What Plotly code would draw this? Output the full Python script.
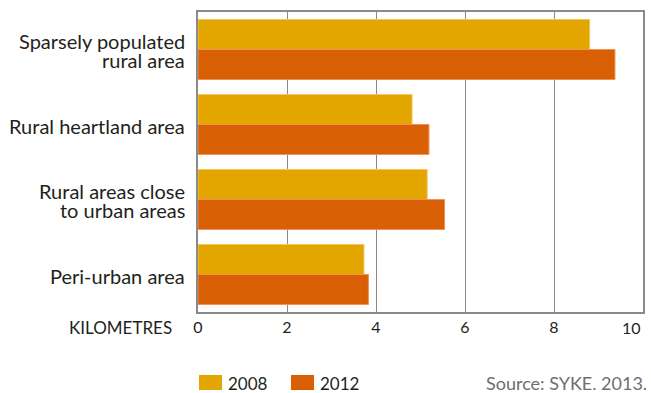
import plotly.graph_objects as go

categories = ["Sparsely populated<br>rural area", "Rural heartland area",
              "Rural areas close<br>to urban areas", "Peri-urban area"]
values_2008 = [8.80, 4.81, 5.15, 3.73]
values_2012 = [9.37, 5.19, 5.54, 3.83]
series_names = ["2008", "2012"]
colors = ["#E3A600", "#D95F05"]
edge_colors = ["#F2C660", "#EE9255"]
tick_vals = [0, 2, 4, 6, 8, 10]
tick_text = ["0", "2", "4", "6", "8", "10"]

FONT = "Lato"
TXT = "#231F20"
GRID = "#8A8A8A"

W, H = 651, 393
PL, PR, PT, PB = 198, 643, 12, 312          # plot area in pixels
PW, PHh = PR - PL, PB - PT


def px(x):
    return (x - PL) / PW


def py(y):
    return (PB - y) / PHh


fig = go.Figure()
for name, vals, c, ec in zip(series_names, [values_2008, values_2012], colors, edge_colors):
    fig.add_trace(go.Bar(
        y=categories, x=vals, name=name, orientation="h",
        marker=dict(color=c, line=dict(color=ec, width=1)),
        showlegend=False,
    ))

# last tick label is drawn right-aligned at its tick so it stays inside the page
shown_text = tick_text[:-1] + [""]

fig.update_layout(
    width=W, height=H,
    margin=dict(l=PL, r=W - PR, t=PT, b=H - PB, autoexpand=False),
    paper_bgcolor="white", plot_bgcolor="white",
    barmode="group", bargap=0.2, bargroupgap=0,
    font=dict(family=FONT, size=16, color=TXT),
    xaxis=dict(range=[0, 10], tickvals=tick_vals, ticktext=shown_text,
               showgrid=True, gridcolor=GRID, gridwidth=1,
               showline=True, linecolor=GRID, linewidth=1.5, mirror=True, zeroline=False,
               ticks="", tickfont=dict(size=16, color=TXT), automargin=False),
    yaxis=dict(categoryorder="array", categoryarray=categories, autorange="reversed",
               showline=True, linecolor=GRID, linewidth=1.5, mirror=True, ticks="",
               showgrid=False, showticklabels=False, automargin=False),
)

fig.add_annotation(text=tick_text[-1], xref="x", yref="paper", x=tick_vals[-1], y=py(327.5),
                   xanchor="right", yanchor="middle", showarrow=False,
                   font=dict(family=FONT, size=16, color=TXT))

# category labels (one annotation per line for tight leading)
LINE = 19.5
for cat in categories:
    lines = cat.split("<br>")
    n = len(lines)
    for i, ln in enumerate(lines):
        fig.add_annotation(text=ln, xref="paper", yref="y", x=px(187), y=cat,
                           xanchor="right", yanchor="middle", showarrow=False,
                           yshift=((n - 1) / 2 - i) * LINE - 1,
                           font=dict(family=FONT, size=20, color=TXT))

# axis unit label
fig.add_annotation(text="KILOMETRES", xref="paper", yref="paper",
                   x=px(174), y=py(327.5), xanchor="right", yanchor="middle",
                   showarrow=False, font=dict(family=FONT, size=17, color=TXT))

# custom legend
leg_items = [(199, 222, "2008", colors[0]), (291, 314, "2012", colors[1])]
for x0, x1, label, c in leg_items:
    fig.add_shape(type="rect", xref="paper", yref="paper",
                  x0=px(x0), x1=px(x1), y0=py(390), y1=py(375),
                  fillcolor=c, line=dict(width=0))
    fig.add_annotation(text=label, xref="paper", yref="paper",
                       x=px(x1 + 4), y=py(383),
                       xanchor="left", yanchor="middle", showarrow=False,
                       font=dict(family=FONT, size=17, color=TXT))

fig.add_annotation(text="Source: SYKE. 2013.", xref="paper", yref="paper",
                   x=px(649), y=py(383),
                   xanchor="right", yanchor="middle", showarrow=False,
                   font=dict(family=FONT, size=18, color="#6D6E71"))

fig.write_html("out.html", config={"displayModeBar": False},
               post_script="document.body.style.margin='0px';")
